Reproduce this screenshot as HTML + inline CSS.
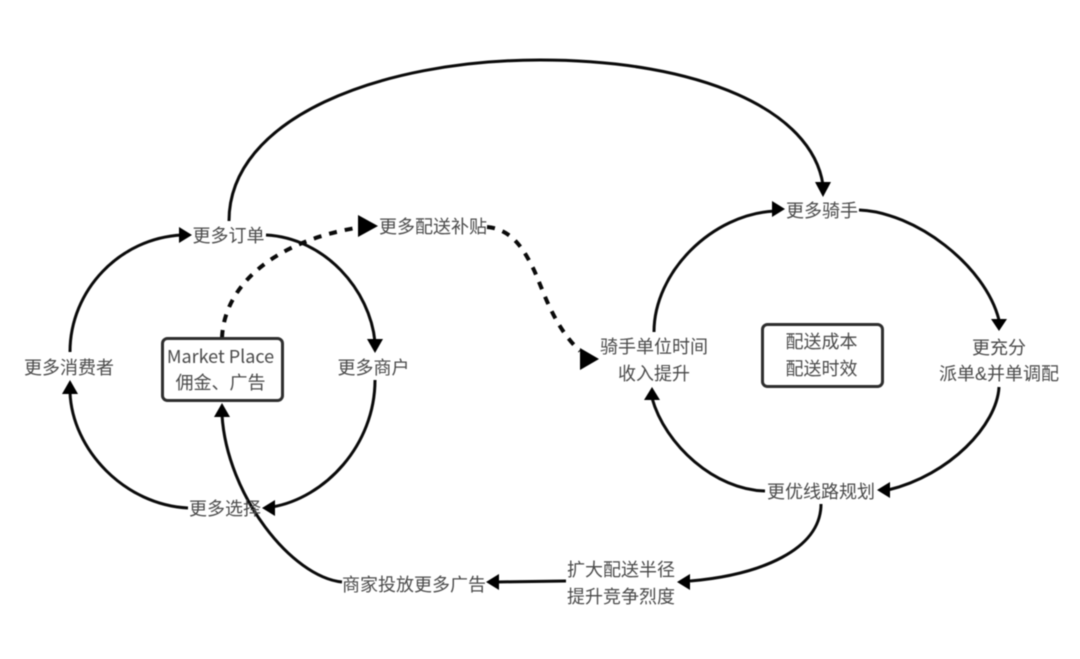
<!DOCTYPE html>
<html><head><meta charset="utf-8">
<style>
html,body{margin:0;padding:0;background:#fff}
svg{display:block;filter:blur(0.45px)}
text{font-family:"Liberation Sans","Noto Sans CJK SC",sans-serif;font-size:18px;fill:#4a4a4a;text-anchor:middle;dominant-baseline:central}
.m{font-family:"Noto Sans CJK SC",sans-serif}
.l{fill:none;stroke:#0a0a0a;stroke-width:3;stroke-linecap:butt}
.d{fill:none;stroke:#0a0a0a;stroke-width:4;stroke-dasharray:8 8}
.b{fill:#fff;stroke:#2e2e2e;stroke-width:3}
polygon{fill:#000}
</style></head><body>
<svg width="1080" height="659" viewBox="0 0 1080 659" xmlns="http://www.w3.org/2000/svg">
<path class="l" d="M229,221 C229,118 380,60 540,60 C700,60 812,110 823,185"/>
<polygon points="823,197 815,182 831,182"/>
<path class="l" d="M70,352 C70,290 120,238 182,235"/>
<polygon points="192,235 179,227 179,243"/>
<path class="l" d="M266,235 C325,238 370,290 375,342"/>
<polygon points="375,353 367,339 383,339"/>
<path class="l" d="M375,380 C375,445 325,498 272,507"/>
<polygon points="262,508 275,500 275,516"/>
<path class="l" d="M188,508 C125,505 72,450 70,392"/>
<polygon points="70,380 62,394 78,394"/>
<path class="d" d="M222,338 C224,285 275,240 362,227"/>
<polygon points="378,226 358,215 358,237"/>
<path class="d" d="M487,227 C512,229 524,250 533,268 C542,286 552,325 580,351"/>
<polygon points="599,359 580,348 580,370"/>
<path class="l" d="M654,332 C654,272 712,214 775,211"/>
<polygon points="785,209 772,201 772,217"/>
<path class="l" d="M859,210 C915,212 985,265 999,320"/>
<polygon points="999,331 991,319 1007,319"/>
<path class="l" d="M999,387 C997,425 950,475 888,490"/>
<polygon points="877,490 890,482 890,498"/>
<path class="l" d="M765,491 C715,490 665,445 652,398"/>
<polygon points="652,387 644,400 660,400"/>
<path class="l" d="M821,504 C821,550 760,575 690,581"/>
<polygon points="677,582 690,574 690,590"/>
<path class="l" d="M566,581 L497,582"/>
<polygon points="486,582 499,574 499,590"/>
<path class="l" d="M342,582 C292,577 227,496 222,415"/>
<polygon points="222,403 214,417 230,417"/>
<rect class="b" x="162.500" y="338.500" width="120" height="62" rx="5"/>
<rect class="b" x="762.500" y="324.500" width="120" height="62" rx="5"/>
<text x="228.500" y="236">更多订单</text>
<text x="433" y="227">更多配送补贴</text>
<text x="822" y="211">更多骑手</text>
<text x="373.500" y="368">更多商户</text>
<text x="69" y="368">更多消费者</text>
<text x="220.500" y="356" class="m">Market Place</text>
<text x="220.500" y="383">佣金、广告</text>
<text x="654" y="347">骑手单位时间</text>
<text x="654" y="374">收入提升</text>
<text x="821.500" y="342">配送成本</text>
<text x="821.500" y="369">配送时效</text>
<text x="999" y="348">更充分</text>
<text x="999" y="374">派单&amp;并单调配</text>
<text x="821" y="492">更优线路规划</text>
<text x="225" y="509">更多选择</text>
<text x="414" y="585">商家投放更多广告</text>
<text x="621" y="570">扩大配送半径</text>
<text x="621" y="597">提升竞争烈度</text>
</svg>
</body></html>
